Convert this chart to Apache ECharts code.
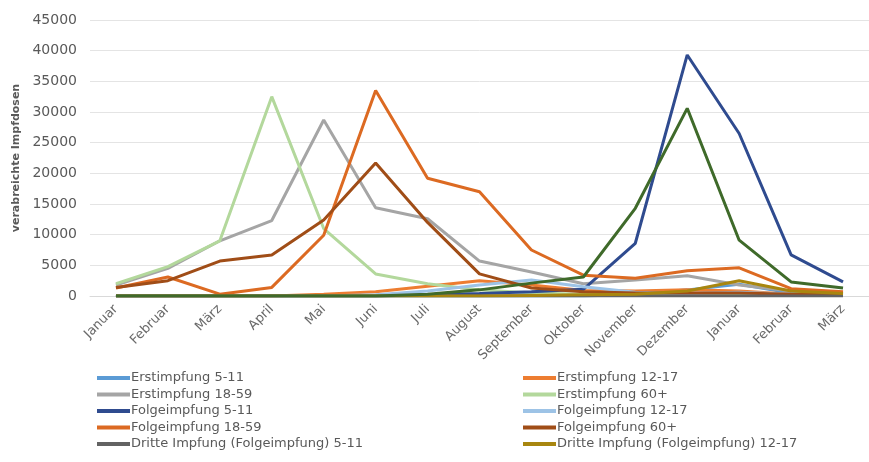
<!DOCTYPE html>
<html>
<head>
<meta charset="utf-8">
<script src="https://cdn.jsdelivr.net/npm/echarts@6/dist/echarts.min.js"></script>
<style>
  html, body { margin: 0; padding: 0; background: #ffffff; }
  #chart { width: 869px; height: 462px; }
</style>
</head>
<body>
<div id="chart"></div>
<script>
// Monate (Januar bis März des Folgejahres)
const months = ['Januar', 'Februar', 'März', 'April', 'Mai', 'Juni', 'Juli', 'August',
  'September', 'Oktober', 'November', 'Dezember', 'Januar', 'Februar', 'März'];

// Verabreichte Impfdosen je Monat
const erst511     = [0, 0, 0, 0, 0, 0, 0, 0, 0, 0, 300, 1000, 1900, 500, 200];
const erst1217    = [0, 0, 0, 0, 300, 700, 1600, 2500, 1800, 900, 800, 1000, 800, 300, 200];
const erst1859    = [1800, 4500, 9000, 12300, 28700, 14400, 12600, 5700, 3900, 2000, 2600, 3300, 1800, 800, 500];
const erst60      = [2000, 4800, 9000, 32500, 11000, 3600, 2000, 1000, 500, 300, 200, 300, 200, 100, 100];
const folge511    = [0, 0, 0, 0, 0, 0, 200, 400, 700, 1100, 8600, 39300, 26500, 6700, 2300];
const folge1217   = [0, 0, 0, 0, 0, 200, 800, 1800, 2600, 1500, 600, 400, 600, 300, 200];
const folge1859   = [1300, 3100, 300, 1400, 9900, 33500, 19200, 17000, 7500, 3400, 2900, 4100, 4600, 1200, 700];
const folge60     = [1400, 2500, 5700, 6700, 12400, 21700, 12000, 3600, 1300, 700, 500, 500, 500, 300, 200];
const dritte511   = [0, 0, 0, 0, 0, 0, 0, 0, 0, 0, 0, 0, 0, 0, 0];
const dritte1217  = [0, 0, 0, 0, 0, 0, 0, 0, 100, 200, 300, 800, 2500, 800, 400];
const dritte1859  = [0, 0, 0, 0, 0, 0, 300, 1000, 2100, 3100, 14300, 30600, 9100, 2300, 1300];

const yTicks = { min: 0, max: 45000, interval: 5000 };

const seriesDefs = [
  { name: 'Erstimpfung 5-11', data: erst511, color: '#5b9bd5' },
  { name: 'Erstimpfung 12-17', data: erst1217, color: '#ed7d31' },
  { name: 'Erstimpfung 18-59', data: erst1859, color: '#a5a5a5' },
  { name: 'Erstimpfung 60+', data: erst60, color: '#b3d89c' },
  { name: 'Folgeimpfung 5-11', data: folge511, color: '#2f4b8f' },
  { name: 'Folgeimpfung 12-17', data: folge1217, color: '#9dc3e6' },
  { name: 'Folgeimpfung 18-59', data: folge1859, color: '#dc6a22' },
  { name: 'Folgeimpfung 60+', data: folge60, color: '#a04d17' },
  { name: 'Dritte Impfung (Folgeimpfung) 5-11', data: dritte511, color: '#636363' },
  { name: 'Dritte Impfung (Folgeimpfung) 12-17', data: dritte1217, color: '#a8860f' },
  { name: 'Dritte Impfung (Folgeimpfung) 18-59', data: dritte1859, color: '#3f6a2a' }
];

// Legende in zwei Spalten, zeilenweise gefüllt
const legendLeft = seriesDefs.filter((s, i) => i < 10 && i % 2 === 0).map(s => s.name);
const legendRight = seriesDefs.filter((s, i) => i < 10 && i % 2 === 1).map(s => s.name);

const FONT = 'DejaVu Sans';
const legendBase = {
  orient: 'vertical',
  top: 371,
  icon: 'rect',
  itemWidth: 33,
  itemHeight: 4,
  itemGap: 2.5,
  padding: 0,
  textStyle: { fontFamily: FONT, fontSize: 13, color: '#595959', lineHeight: 14, padding: [0, 0, 0, -4] }
};

const chart = echarts.init(document.getElementById('chart'), null, { renderer: 'canvas' });
chart.setOption({
  animation: false,
  backgroundColor: '#ffffff',
  grid: { left: 90, top: 20, width: 788, height: 276, containLabel: false },
  legend: [
    Object.assign({}, legendBase, { left: 97, data: legendLeft }),
    Object.assign({}, legendBase, { left: 523, data: legendRight })
  ],
  xAxis: {
    type: 'category',
    data: months,
    boundaryGap: true,
    axisLine: { lineStyle: { color: '#d9d9d9', width: 1 } },
    axisTick: { show: false },
    axisLabel: {
      interval: 0,
      rotate: 45,
      margin: 11,
      fontFamily: FONT,
      fontSize: 13,
      color: '#6a6a6a'
    }
  },
  yAxis: {
    type: 'value',
    min: yTicks.min,
    max: yTicks.max,
    interval: yTicks.interval,
    name: 'verabreichte Impfdosen',
    nameLocation: 'middle',
    nameGap: 62,
    nameRotate: 90,
    nameTextStyle: { fontFamily: FONT, fontSize: 11, fontWeight: 'bold', color: '#595959' },
    axisLine: { show: false },
    axisTick: { show: false },
    axisLabel: {
      fontFamily: FONT, fontSize: 14, color: '#595959', margin: 13,
      formatter: v => String(v)
    },
    splitLine: { lineStyle: { color: '#e4e4e4', width: 1 } }
  },
  series: seriesDefs.map(s => ({
    name: s.name,
    type: 'line',
    data: s.data,
    showSymbol: false,
    symbol: 'none',
    color: s.color,
    lineStyle: { width: 3, color: s.color },
    emphasis: { disabled: true }
  }))
});
</script>
</body>
</html>
